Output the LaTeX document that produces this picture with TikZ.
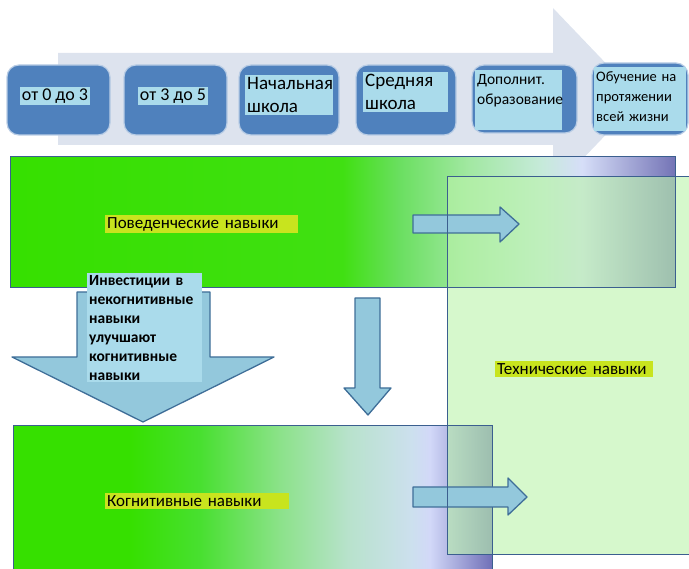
\documentclass[tikz,border=0pt]{standalone}
\usepackage{fontspec}
\setmainfont{Carlito}
\usetikzlibrary{positioning}

\definecolor{stageblue}{HTML}{4F81BD}
\definecolor{labelcyan}{HTML}{AADBEB}
\definecolor{bandgray}{HTML}{DDE3EE}
\definecolor{skillgreen}{HTML}{36E000}
\definecolor{tagyellow}{HTML}{C8E41E}
\definecolor{techgreen}{HTML}{BBF3AA}
\definecolor{edgeblue}{HTML}{3B5F8F}
\definecolor{arrowfill}{HTML}{93C8DC}
\definecolor{arrowedge}{HTML}{3F6E98}
% gradient stops
\definecolor{tbA}{HTML}{40E012}
\definecolor{tbB}{HTML}{6ADF60}
\definecolor{tbC}{HTML}{A2E8A2}
\definecolor{tbD}{HTML}{C6EADA}
\definecolor{tbE}{HTML}{D6DEF8}
\definecolor{tbF}{HTML}{7474B6}
\definecolor{bbA}{HTML}{48E030}
\definecolor{bbB}{HTML}{8CE28A}
\definecolor{bbC}{HTML}{B8E2CC}
\definecolor{bbD}{HTML}{CCE0EE}
\definecolor{bbE}{HTML}{D2D8F8}
\definecolor{bbF}{HTML}{7070B8}

\pgfdeclarehorizontalshading{topband}{100bp}{color(0bp)=(skillgreen); color(25bp)=(skillgreen);
  color(50bp)=(tbA); color(54.25bp)=(tbB); color(59.5bp)=(tbC); color(65bp)=(tbD);
  color(68bp)=(tbE); color(75bp)=(tbF); color(100bp)=(tbF)}
\pgfdeclarehorizontalshading{bottomband}{100bp}{color(0bp)=(skillgreen); color(37.2bp)=(skillgreen);
  color(44.5bp)=(bbA); color(52.9bp)=(bbB); color(60bp)=(bbC); color(66.6bp)=(bbD);
  color(68.5bp)=(bbE); color(75bp)=(bbF); color(100bp)=(bbF)}

\begin{document}
\begin{tikzpicture}[x=1pt, y=-1pt,
    stagebox/.style={fill=stageblue, draw=stageblue!40!white, line width=1.2pt,
      rounded corners=12pt, inner sep=0pt},
    stagetag/.style={fill=labelcyan, inner sep=2pt, align=left},
    skilltag/.style={fill=tagyellow, inner sep=2pt, anchor=west, align=left,
      font=\fontsize{17}{20}\selectfont},
    blockarrow/.style={fill=arrowfill, draw=arrowedge, line width=1.3pt, line join=round}]
    \useasboundingbox (0,0) rectangle (689,569);
    \clip (0,0) rectangle (689,569);

    % Background arrow
    \fill[bandgray] (58,53) -- (553,53) -- (553,8) -- (640,99) -- (553,190)
      -- (553,145) -- (58,145) -- cycle;

    % Stages
    \node[stagebox, minimum width=103pt, minimum height=70pt] (b1) at (58.5,100) {};
    \node[stagebox, minimum width=103pt, minimum height=70pt] (b2) at (175.5,100) {};
    \node[stagebox, minimum width=100pt, minimum height=70pt] (b3) at (289,100) {};
    \node[stagebox, minimum width=100pt, minimum height=70pt] (b4) at (406,100) {};
    \node[stagebox, minimum width=105pt, minimum height=68pt] (b5) at (524.5,99) {};
    \node[stagebox, minimum width=96pt, minimum height=72pt] (b6) at (640,99) {};

    \node[stagetag, font=\fontsize{18}{22}\selectfont] (t1) at (55,96) {от 0 до 3};
    \node[stagetag, font=\fontsize{18}{22}\selectfont] (t2) at (173,96) {от 3 до 5};
    \node[stagetag, anchor=north west, text width=84pt,
      font=\fontsize{19}{23}\selectfont] (t3) at (245,75) {Начальная\\школа};
    \node[stagetag, anchor=north west, text width=81pt,
      font=\fontsize{19}{23}\selectfont] (t4) at (363,72) {Средняя\\школа};
    \node[stagetag, anchor=north west, text width=83pt, text height=12pt, text depth=44pt,
      font=\fontsize{15.5}{20}\selectfont] (t5) at (475,70) {Дополнит.\\образование};
    \node[stagetag, anchor=north west, text width=88pt, text height=12pt, text depth=48pt,
      font=\fontsize{14.5}{20}\selectfont] (t6) at (594,67) {Обучение на\\протяжении\\всей жизни};

    % Skill bands
    \shade[shading=topband] (10,157) rectangle (675,288);
    \shade[shading=bottomband] (13,426) rectangle (492,575);
    \fill[techgreen, fill opacity=0.6] (447,177) rectangle (700,555);
    \draw[edgeblue, line width=1pt] (10,157) rectangle (675,288);
    \draw[edgeblue, line width=1pt] (13,426) rectangle (492,575);

    % Arrows
    \draw[blockarrow] (413,215) -- (500,215) -- (500,207) -- (519,224) -- (500,242)
      -- (500,233) -- (413,233) -- cycle;
    \draw[blockarrow] (413,487) -- (508,487) -- (508,478) -- (527,497) -- (508,515)
      -- (508,507) -- (413,507) -- cycle;
    \draw[blockarrow] (77,292) -- (210,292) -- (210,357) -- (274,357) -- (143,422)
      -- (12,357) -- (77,357) -- cycle;
    \draw[blockarrow] (355,298) -- (380,298) -- (380,388) -- (391,388) -- (368,415)
      -- (344,388) -- (355,388) -- cycle;
    \draw[edgeblue, line width=1pt] (447,177) rectangle (700,555);

    % Labels
    \node[skilltag, text width=189pt] (behav) at (105,224) {Поведенческие навыки};
    \node[skilltag, text width=154pt] (tech) at (495,369) {Технические навыки};
    \node[skilltag, text width=180pt] (cogn) at (105,501) {Когнитивные навыки};
    \node[fill=labelcyan, anchor=north west, inner sep=2pt, text width=111pt, align=left,
      font=\bfseries\fontsize{15.5}{19}\selectfont] (invest) at (87,273)
      {Инвестиции в\\некогнитивные\\навыки\\улучшают\\когнитивные\\навыки};
\end{tikzpicture}
\end{document}
